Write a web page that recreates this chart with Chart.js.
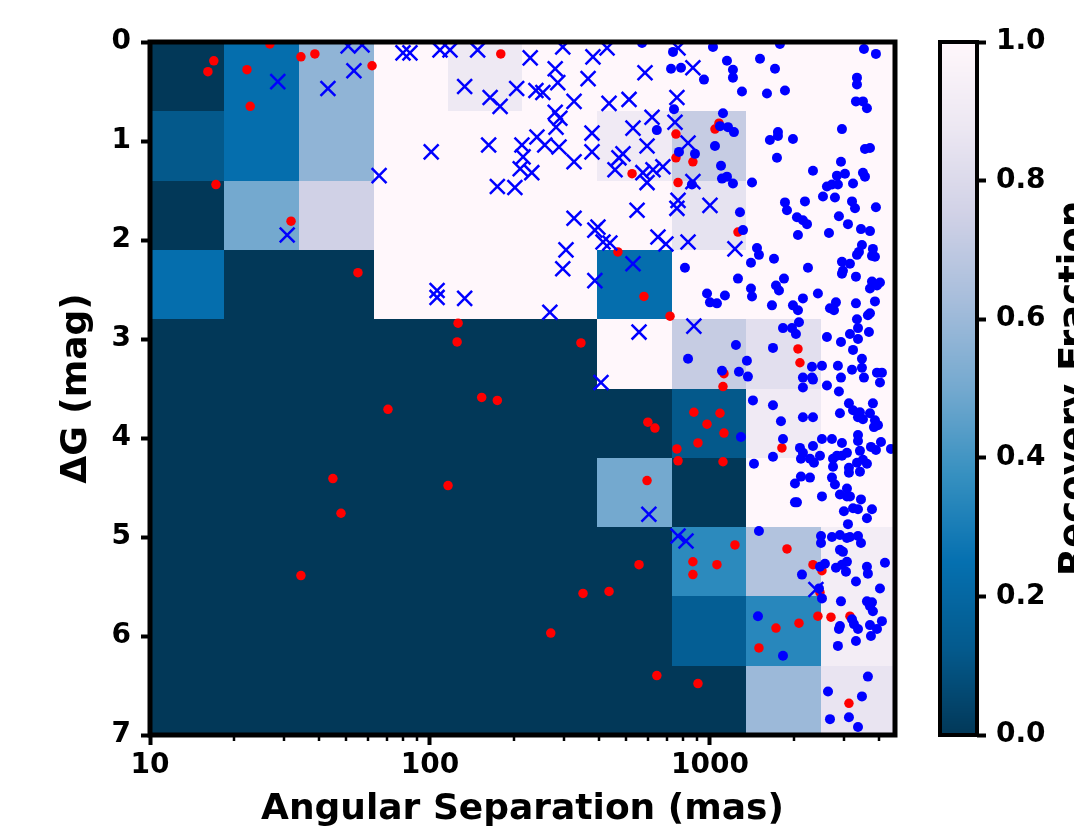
<!DOCTYPE html>
<html>
<head>
<meta charset="utf-8">
<script src="https://cdn.jsdelivr.net/npm/chart.js@4.4.1/dist/chart.umd.min.js"></script>
<style>
  html, body { margin: 0; padding: 0; background: #fff; }
  #wrap { position: relative; width: 1074px; height: 831px; overflow: hidden; }
  #mainChart { position: absolute; left: 0; top: 0; }
  #cbChart { position: absolute; left: 900px; top: 0; }
</style>
</head>
<body>
<div id="wrap">
  <canvas id="mainChart" width="900" height="831"></canvas>
  <canvas id="cbChart" width="174" height="831"></canvas>
</div>
<script>
// Bin edges of the recovery map
const sepEdges = [10, 18.45, 34.06, 62.85, 116.0, 214.0, 395.0, 728.9, 1345, 2482, 4580];
const dgEdges = [0, 0.7, 1.4, 2.1, 2.8, 3.5, 4.2, 4.9, 5.6, 6.3, 7.0];

// Recovery fraction, one row per dG bin (top to bottom), one column per separation bin
const recovery = [
    [0, 0.24, 0.57, 1, 0.89, 1, 1, 1, 1, 1],
    [0.12, 0.24, 0.57, 1, 1, 1, 0.9, 0.72, 1, 1],
    [0, 0.5, 0.75, 1, 1, 1, 1, 0.85, 1, 1],
    [0.24, 0, 0, 1, 1, 1, 0.24, 1, 1, 1],
    [0, 0, 0, 0, 0, 0, 1, 0.72, 0.83, 1],
    [0, 0, 0, 0, 0, 0, 0, 0.12, 0.9, 1],
    [0, 0, 0, 0, 0, 0, 0.5, 0, 1, 1],
    [0, 0, 0, 0, 0, 0, 0, 0.35, 0.66, 0.92],
    [0, 0, 0, 0, 0, 0, 0, 0.15, 0.34, 0.92],
    [0, 0, 0, 0, 0, 0, 0, 0, 0.6, 0.86]
];

// [separation (mas), dG (mag)]
const redPoints = [
    [16.9,0.19],[16.1,0.30],[22.2,0.28],[22.8,0.65],[26.8,0.02],[34.6,0.15],[38.8,0.12],[62.1,0.24],
    [17.2,1.44],[31.9,1.81],[55.3,2.33],[70.8,3.71],[45.0,4.41],[48.1,4.76],[34.6,5.39],[179,0.12],
    [527,1.33],[469,2.12],[581,2.57],[126,2.84],[125,3.03],[346,3.04],[153,3.59],[174,3.62],
    [600,3.84],[636,3.90],[596,4.43],[116,4.48],[558,5.28],[352,5.57],[436,5.55],[270,5.97],
    [646,6.40],[756,0.93],[1077,0.82],[1042,0.88],[756,1.17],[869,1.21],[769,1.42],[1259,1.92],
    [720,2.77],[2062,3.10],[2096,3.24],[1122,3.35],[1113,3.48],[876,3.74],[1086,3.75],[976,3.86],
    [1122,3.95],[906,4.05],[762,4.11],[769,4.23],[1113,4.24],[1807,4.10],[1228,5.08],[1884,5.12],
    [869,5.25],[1059,5.28],[869,5.38],[2333,5.28],[2512,5.34],[2471,5.56],[2430,5.80],[2705,5.81],
    [3162,5.80],[1721,5.92],[2079,5.87],[1496,6.12],[906,6.48],[3136,6.68]
];

const blueCrossPoints = [
    [28.6,0.40],[43.2,0.47],[53.5,0.29],[51.0,0.04],[57.2,0.03],[65.8,1.35],[30.9,1.95],[80.1,0.11],
    [84.8,0.11],[108.6,0.08],[117.9,0.08],[148,0.08],[133,0.45],[164,0.56],[178,0.65],[204,0.47],
    [228,0.16],[239,0.49],[253,0.51],[280,0.27],[286,0.41],[298,0.05],[327,0.60],[367,0.37],
    [382,0.15],[429,0.06],[436,0.62],[514,0.58],[586,0.31],[621,0.76],[531,0.87],[596,1.05],
    [379,0.92],[379,1.11],[280,0.71],[291,0.77],[282,0.86],[241,0.96],[257,1.04],[289,1.06],
    [327,1.21],[213,1.04],[215,1.16],[210,1.28],[231,1.32],[174,1.46],[201,1.47],[162,1.04],
    [101,1.11],[458,1.29],[489,1.13],[473,1.17],[576,1.32],[596,1.42],[626,1.29],[549,1.70],
    [327,1.78],[388,1.90],[398,1.87],[415,2.02],[439,2.03],[306,2.10],[298,2.29],[531,2.24],
    [652,1.97],[388,2.41],[106,2.51],[106,2.58],[133,2.59],[268,2.73],[558,2.93],[408,3.44],
    [605,4.77],[769,0.06],[869,0.26],[762,0.56],[750,0.81],[835,1.02],[679,1.26],[869,1.41],
    [769,1.60],[1000,1.65],[762,1.68],[696,2.04],[835,2.02],[1228,2.09],[876,2.87],[769,4.99],
    [821,5.04],[2390,5.53]
];

const blueDotPoints = [
    [646,0.89],[572,0.01],[738,0.10],[726,0.27],[788,0.26],[1025,0.05],[1150,0.19],[1208,0.28],
    [1208,0.36],[952,0.38],[1301,0.50],[1509,0.17],[1707,0.27],[1778,0.02],[1598,0.52],[1853,0.49],
    [3548,0.07],[3915,0.12],[3350,0.36],[3350,0.43],[3322,0.60],[3519,0.60],[3636,0.67],[744,0.68],
    [1113,0.72],[1086,0.85],[1160,0.86],[1218,0.91],[1042,1.05],[775,1.11],[884,1.13],[1095,1.25],
    [1104,1.38],[1150,1.36],[1208,1.43],[1413,1.42],[1749,0.91],[1749,0.95],[1637,0.99],[1979,0.98],
    [1735,1.17],[2961,0.88],[3578,1.08],[3728,1.07],[2937,1.21],[2333,1.30],[3519,1.32],[3578,1.36],
    [2841,1.35],[3035,1.33],[2727,1.44],[2864,1.44],[2617,1.46],[3243,1.43],[2533,1.56],[2795,1.57],
    [3216,1.61],[2184,1.61],[1853,1.62],[1280,1.72],[3915,1.67],[3296,1.68],[862,1.44],[1312,1.90],
    [1884,1.70],[2045,1.77],[2148,1.80],[2221,1.84],[2062,1.95],[2661,1.93],[2888,1.76],[3111,1.84],
    [3462,1.89],[3728,1.91],[1472,2.08],[1496,2.15],[1401,2.23],[1693,2.19],[814,2.28],[1259,2.39],
    [1838,2.39],[2239,2.28],[2961,2.22],[3162,2.24],[2985,2.31],[2961,2.34],[3350,2.15],[3490,2.05],
    [3405,2.12],[3819,2.09],[3884,2.17],[3790,2.16],[3322,2.37],[3790,2.42],[4047,2.43],[3728,2.49],
    [3949,2.46],[976,2.54],[1000,2.63],[1059,2.64],[1131,2.56],[1401,2.49],[1413,2.57],[1721,2.46],
    [1764,2.51],[2148,2.59],[2430,2.54],[1665,2.66],[1979,2.66],[2062,2.71],[2683,2.69],[2773,2.71],
    [2818,2.63],[3322,2.64],[3884,2.62],[2079,2.83],[3350,2.80],[3665,2.76],[3728,2.74],[3378,2.89],
    [3697,2.93],[1823,2.89],[1963,2.89],[2028,2.95],[3162,2.95],[3378,3.00],[2617,2.98],[2937,3.03],
    [3243,3.11],[1238,3.06],[1679,3.09],[835,3.20],[1355,3.22],[3490,3.20],[2314,3.28],[2512,3.27],
    [2864,3.27],[3216,3.31],[3490,3.29],[1104,3.32],[1269,3.33],[3949,3.34],[4113,3.34],[1366,3.38],
    [2148,3.39],[2314,3.39],[2937,3.39],[3548,3.39],[1424,3.62],[1679,3.67],[1793,3.83],[2148,3.79],
    [2333,3.79],[2148,3.49],[2333,3.41],[2617,3.47],[2888,3.53],[4047,3.44],[3819,3.65],[3136,3.65],
    [3243,3.72],[2912,3.75],[3433,3.74],[3519,3.81],[3378,3.79],[3728,3.75],[3884,3.82],[3981,3.87],
    [3852,3.89],[1290,3.99],[1823,4.01],[2512,4.01],[2727,4.01],[2961,4.05],[3378,3.97],[3378,4.03],
    [3758,4.09],[4081,4.04],[3915,4.12],[4430,4.11],[3433,4.13],[2096,4.10],[2148,4.15],[2333,4.08],
    [2471,4.18],[1679,4.19],[1436,4.26],[2113,4.21],[2276,4.21],[2352,4.25],[2751,4.21],[2841,4.18],
    [2961,4.18],[3085,4.15],[2751,4.29],[3350,4.25],[3519,4.22],[3636,4.26],[3433,4.34],[3136,4.30],
    [3136,4.35],[2113,4.39],[2276,4.40],[2012,4.46],[2727,4.40],[2795,4.47],[3085,4.51],[2912,4.57],
    [3085,4.59],[3162,4.59],[2512,4.59],[2012,4.65],[2045,4.65],[3462,4.62],[3009,4.74],[3243,4.71],
    [3378,4.72],[3790,4.72],[3636,4.81],[3111,4.87],[1496,4.94],[2492,4.99],[2727,5.00],[2492,5.06],
    [2912,4.98],[3085,5.01],[3162,5.00],[3378,4.99],[3462,5.06],[2912,5.13],[2985,5.15],[2471,5.30],
    [2574,5.27],[2131,5.38],[2818,5.31],[2961,5.28],[3085,5.25],[3060,5.35],[3636,5.30],[3665,5.37],
    [4217,5.26],[3322,5.45],[4047,5.52],[2451,5.52],[2512,5.62],[2937,5.65],[3636,5.65],[3790,5.66],
    [3728,5.70],[3819,5.75],[3216,5.83],[3268,5.88],[3378,5.93],[2912,5.90],[2888,5.93],[3728,5.89],
    [3949,5.93],[4113,5.85],[3758,6.00],[3322,6.05],[2864,6.10],[1484,5.80],[1823,6.20],[3665,6.41],
    [2640,6.56],[3490,6.61],[2683,6.84],[3136,6.82],[3378,6.92]
];

// Tick values
const xMajorTicks = [10, 100, 1000];
const xMinorTicks = [20, 30, 40, 50, 60, 70, 80, 90, 200, 300, 400, 500, 600, 700, 800, 900, 2000, 3000, 4000];
const yTicks = [0, 1, 2, 3, 4, 5, 6, 7];
const cbTicks = [0, 0.2, 0.4, 0.6, 0.8, 1.0];

// PuBu colormap, reversed (0 -> dark blue, 1 -> near white)
const pubuStops = ['#023858', '#045a8d', '#0570b0', '#3690c0', '#74a9cf', '#a6bddb', '#d0d1e6', '#ece7f2', '#fff7fb'];
function hexRgb(h) {
    return [parseInt(h.slice(1, 3), 16), parseInt(h.slice(3, 5), 16), parseInt(h.slice(5, 7), 16)];
}
function pubuR(v) {
    v = Math.max(0, Math.min(1, v));
    const pos = v * (pubuStops.length - 1);
    const i = Math.min(Math.floor(pos), pubuStops.length - 2);
    const t = pos - i;
    const a = hexRgb(pubuStops[i]), b = hexRgb(pubuStops[i + 1]);
    const c = a.map((av, k) => Math.round(av + (b[k] - av) * t));
    return 'rgb(' + c.join(',') + ')';
}

const FONT = "'DejaVu Sans', 'Liberation Sans', sans-serif";
const tickFont = { family: FONT, size: 28, weight: 'bold' };
const titleFont = { family: FONT, size: 36, weight: 'bold' };

const toXY = p => ({ x: p[0], y: p[1] });

// Recovery-fraction cells, drawn under the points
const heatmapPlugin = {
    id: 'heatmap',
    beforeDatasetsDraw(chart) {
        const { ctx, scales: { x, y } } = chart;
        ctx.save();
        recovery.forEach((row, i) => {
            const y0 = Math.round(y.getPixelForValue(dgEdges[i]));
            const y1 = Math.round(y.getPixelForValue(dgEdges[i + 1]));
            row.forEach((v, j) => {
                const x0 = Math.round(x.getPixelForValue(sepEdges[j]));
                const x1 = Math.round(x.getPixelForValue(sepEdges[j + 1]));
                ctx.fillStyle = pubuR(v);
                ctx.fillRect(x0, y0, x1 - x0, y1 - y0);
            });
        });
        ctx.restore();
    }
};

// Thick frame and minor log ticks
const framePlugin = {
    id: 'frame',
    afterDatasetsDraw(chart) {
        const { ctx, chartArea: a, scales: { x } } = chart;
        ctx.save();
        ctx.strokeStyle = '#000';
        ctx.lineWidth = 2.5;
        xMinorTicks.forEach(v => {
            const px = Math.round(x.getPixelForValue(v));
            ctx.beginPath();
            ctx.moveTo(px, a.bottom);
            ctx.lineTo(px, a.bottom + 6);
            ctx.stroke();
        });
        ctx.lineWidth = 5;
        ctx.strokeRect(a.left, a.top, a.right - a.left, a.bottom - a.top);
        ctx.restore();
    }
};

new Chart(document.getElementById('mainChart'), {
    type: 'scatter',
    data: {
        datasets: [
            {
                label: 'blue x',
                data: blueCrossPoints.map(toXY),
                pointStyle: 'crossRot',
                pointRadius: 10.5,
                borderColor: '#0000ff',
                backgroundColor: '#0000ff',
                borderWidth: 2.5
            },
            {
                label: 'blue',
                data: blueDotPoints.map(toXY),
                pointStyle: 'circle',
                pointRadius: 5,
                borderWidth: 0,
                backgroundColor: '#0000ff'
            },
            {
                label: 'red',
                data: redPoints.map(toXY),
                pointStyle: 'circle',
                pointRadius: 4.75,
                borderWidth: 0,
                backgroundColor: '#ff0000'
            }
        ]
    },
    options: {
        responsive: false,
        animation: false,
        events: [],
        layout: { autoPadding: false, padding: { top: 42, right: 5, left: 0, bottom: 0 } },
        plugins: { legend: { display: false }, tooltip: { enabled: false } },
        scales: {
            x: {
                type: 'logarithmic',
                min: sepEdges[0],
                max: sepEdges[sepEdges.length - 1],
                afterBuildTicks: s => { s.ticks = xMajorTicks.map(v => ({ value: v })); },
                afterFit: s => { s.height = 96; },
                border: { display: false },
                grid: { drawOnChartArea: false, tickLength: 10, tickWidth: 4, tickColor: '#000' },
                ticks: { color: '#000', font: tickFont, padding: 4, maxRotation: 0, autoSkip: false, callback: v => String(v) },
                title: { display: true, text: 'Angular Separation (mas)', color: '#000', font: titleFont, padding: { top: 0, bottom: 0 } }
            },
            y: {
                type: 'linear',
                reverse: true,
                min: 0,
                max: 7,
                afterBuildTicks: s => { s.ticks = yTicks.map(v => ({ value: v })); },
                afterFit: s => { s.width = 150; },
                border: { display: false },
                grid: { drawOnChartArea: false, tickLength: 9, tickWidth: 4, tickColor: '#000' },
                ticks: { color: '#000', font: tickFont, padding: 10, callback: v => String(v) },
                title: { display: true, text: 'ΔG (mag)', color: '#000', font: titleFont, padding: { top: 55, bottom: 0 } }
            }
        }
    },
    plugins: [heatmapPlugin, framePlugin]
});

// Colorbar: gradient through the colorbar's own y scale, frame and rotated label
const colorbarPlugin = {
    id: 'colorbar',
    afterDraw(chart) {
        const { ctx, chartArea: a, scales: { y } } = chart;
        ctx.save();
        for (let py = Math.floor(a.top); py < a.bottom; py++) {
            ctx.fillStyle = pubuR(y.getValueForPixel(py + 0.5));
            ctx.fillRect(a.left, py, a.right - a.left, 1);
        }
        ctx.strokeStyle = '#000';
        ctx.lineWidth = 4;
        ctx.strokeRect(a.left, a.top, a.right - a.left, a.bottom - a.top);
        ctx.translate(157, (a.top + a.bottom) / 2);
        ctx.rotate(-Math.PI / 2);
        ctx.fillStyle = '#000';
        ctx.font = 'bold 37px ' + FONT;
        ctx.textAlign = 'center';
        ctx.textBaseline = 'top';
        ctx.fillText('Recovery Fraction', 0, 0);
        ctx.restore();
    }
};

new Chart(document.getElementById('cbChart'), {
    type: 'scatter',
    data: { datasets: [] },
    options: {
        responsive: false,
        animation: false,
        events: [],
        layout: { autoPadding: false, padding: { top: 42, left: 40, right: 0, bottom: 96 } },
        plugins: { legend: { display: false }, tooltip: { enabled: false } },
        scales: {
            x: { display: false, min: 0, max: 1 },
            y: {
                position: 'right',
                min: 0,
                max: 1,
                afterBuildTicks: s => { s.ticks = cbTicks.map(v => ({ value: v })); },
                afterFit: s => { s.width = 97; },
                border: { display: false },
                grid: { drawOnChartArea: false, tickLength: 9, tickWidth: 4, tickColor: '#000' },
                ticks: { color: '#000', font: tickFont, padding: 10, callback: v => v.toFixed(1) }
            }
        }
    },
    plugins: [colorbarPlugin]
});
</script>
</body>
</html>
